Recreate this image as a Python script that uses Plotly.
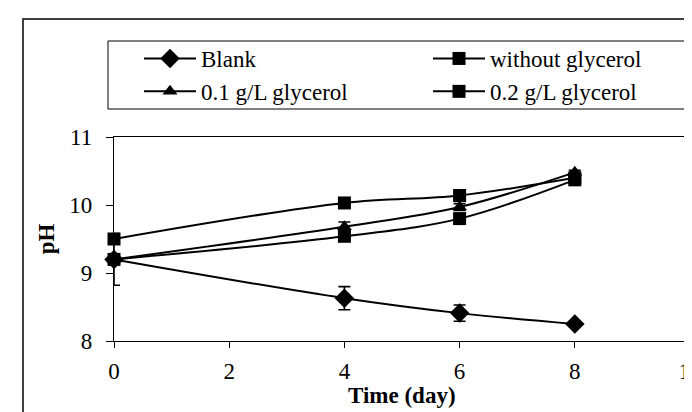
import plotly.graph_objects as go

# ---------------- data ----------------
days = [0, 4, 6, 8]

blank = [9.20, 8.63, 8.41, 8.25]
blank_err = [0.38, 0.17, 0.12, 0.03]

without_glycerol = [9.20, 9.54, 9.80, 10.37]
without_err = [0.03, 0.04, 0.06, 0.04]

glycerol_01 = [9.20, 9.68, 9.97, 10.48]
glycerol_01_err = [0.03, 0.07, 0.05, 0.03]

glycerol_02 = [9.50, 10.03, 10.14, 10.40]
glycerol_02_err = [0.04, 0.03, 0.05, 0.03]

x_ticks = [0, 2, 4, 6, 8, 10]
y_ticks = [8, 9, 10, 11]

# ---------------- geometry (pixels) ----------------
W, H = 692, 412
L, R, T, B = 106, 10, 129, 79
PW, PH = W - L - R, H - T - B


def px_x(p):
    return (p - L) / PW


def px_y(p):
    return (H - B - p) / PH


FONT = "Liberation Serif, Times New Roman, serif"

fig = go.Figure()

series = [
    # name, values, errors, symbol, legend rank
    ("Blank", blank, blank_err, "diamond", 1),
    ("0.1 g/L glycerol", glycerol_01, glycerol_01_err, "triangle-up", 3),
    ("without glycerol", without_glycerol, without_err, "square", 2),
    ("0.2 g/L glycerol", glycerol_02, glycerol_02_err, "square", 4),
]

for name, vals, errs, sym, rank in series:
    fig.add_trace(go.Scatter(
        x=days, y=vals, name=name, mode="lines+markers",
        line=dict(color="black", width=2, shape="spline", smoothing=1),
        marker=dict(symbol=sym, size=13 if sym != "diamond" else 15, color="black"),
        error_y=dict(type="data", array=errs, visible=True,
                     color="black", thickness=1.6, width=6),
        cliponaxis=False,
        legendrank=rank,
    ))

fig.update_layout(
    width=W, height=H,
    margin=dict(l=L, r=R, t=T, b=B, autoexpand=False),
    paper_bgcolor="white", plot_bgcolor="white",
    font=dict(family=FONT, size=23, color="black"),
    showlegend=True,
    legend=dict(
        orientation="h",
        xref="container", yref="container",
        x=131 / W, y=1 - 29 / H, xanchor="left", yanchor="top",
        itemwidth=52,
        entrywidth=222, entrywidthmode="pixels",
        font=dict(family=FONT, size=23, color="black"),
        bgcolor="rgba(0,0,0,0)", borderwidth=0,
        tracegroupgap=0,
        itemclick=False, itemdoubleclick=False,
    ),
    xaxis=dict(
        range=[0, 10], tickvals=x_ticks, ticktext=[str(v) for v in x_ticks],
        showgrid=False, zeroline=False,
        showline=True, linecolor="black", linewidth=1.3, mirror=True,
        ticks="outside", ticklen=6, tickwidth=1.3, tickcolor="black",
        ticklabelstandoff=3, ticklabeloverflow="allow",
        tickfont=dict(family=FONT, size=23, color="black"),
    ),
    yaxis=dict(
        range=[8, 11], tickvals=y_ticks, ticktext=[str(v) for v in y_ticks],
        showgrid=False, zeroline=False,
        showline=True, linecolor="black", linewidth=1.3, mirror=True,
        ticks="outside", ticklen=7, tickwidth=1.3, tickcolor="black",
        ticklabelstandoff=9,
        tickfont=dict(family=FONT, size=23, color="black"),
        title=dict(text="<b>pH</b>", standoff=8,
                   font=dict(family=FONT, size=23, color="black")),
    ),
    annotations=[
        dict(text="<b>Time (day)</b>", xref="paper", yref="paper",
             x=0.5, y=px_y(387), xanchor="center", yanchor="middle",
             showarrow=False, font=dict(family=FONT, size=23, color="black")),
    ],
    shapes=[
        # outer chart border (right/bottom edges fall outside the image)
        dict(type="rect", xref="paper", yref="paper",
             x0=px_x(15), x1=px_x(730), y0=px_y(440), y1=px_y(11),
             line=dict(color="#404040", width=2), fillcolor="rgba(0,0,0,0)",
             layer="below"),
        # legend box
        dict(type="rect", xref="paper", yref="paper",
             x0=px_x(100), x1=px_x(683), y0=px_y(101), y1=px_y(33),
             line=dict(color="black", width=1), fillcolor="rgba(0,0,0,0)"),
    ],
)

fig.write_html("out.html")
